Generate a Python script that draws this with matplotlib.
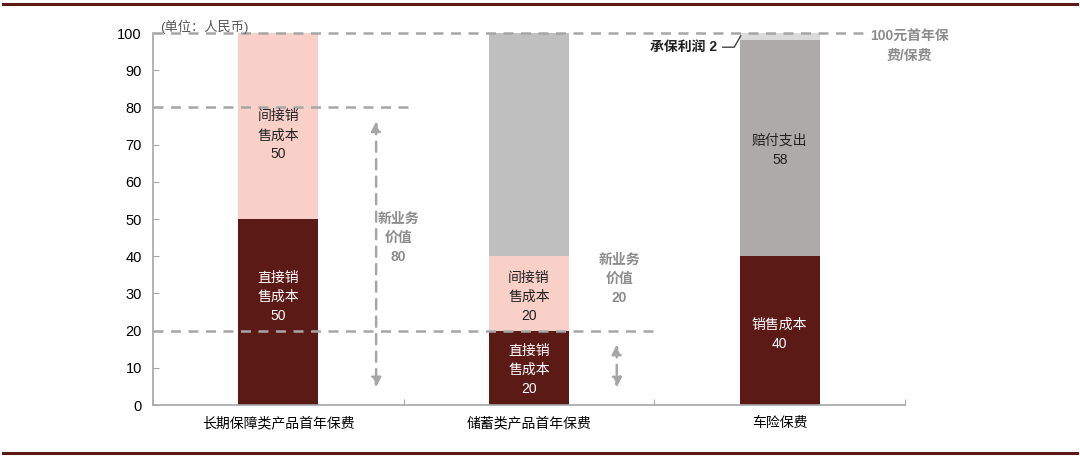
import matplotlib
matplotlib.use('Agg')
import matplotlib.pyplot as plt
from matplotlib.lines import Line2D
import numpy as np

plt.rcParams['font.family'] = ['Liberation Sans', 'Noto Sans CJK SC', 'DejaVu Sans']

# datos
categorias = ['长期保障类产品首年保费', '储蓄类产品首年保费', '车险保费']
seg_inferior = [50, 20, 40]      # coste de venta directo / coste de venta
seg_medio = [50, 20, 58]         # coste indirecto / pago de siniestros
seg_superior = [0, 60, 2]        # valor restante / beneficio de suscripción

etiq_inferior = ['直接销\n售成本\n50', '直接销\n售成本\n20', '销售成本\n40']
etiq_medio = ['间接销\n售成本\n50', '间接销\n售成本\n20', '赔付支出\n58']

lineas_ref = [100, 80, 20]
yticks = np.arange(0, 101, 10)

oscuro = '#5C1A17'
rosa = '#F8D0C8'
gris = '#BFBFBF'
gris2 = '#AFAAAA'
gris_claro = '#DADADA'
gris_linea = '#A6A6A6'
gris_texto = '#8C8C8C'

col_medio = [rosa, rosa, gris2]
col_superior = [gris, gris, gris_claro]

fig = plt.figure(figsize=(10.8, 4.59), dpi=100)
ax = fig.add_axes([0.1417, 0.1176, 0.6963, 0.8104])

x = np.arange(len(categorias))
ancho = 0.32
ax.bar(x, seg_inferior, ancho, color=oscuro, zorder=2)
ax.bar(x, seg_medio, ancho, bottom=seg_inferior, color=col_medio, zorder=2)
base_sup = np.array(seg_inferior) + np.array(seg_medio)
ax.bar(x, seg_superior, ancho, bottom=base_sup, color=col_superior, zorder=2)

# etiquetas dentro de las barras
pos_inf = [29, 9.5, 19]
pos_med = [72.5, 29, 68.5]
for i in range(len(categorias)):
    ax.text(x[i], pos_inf[i], etiq_inferior[i], ha='center', va='center',
            color='white', fontsize=10, linespacing=1.45, zorder=4)
    ax.text(x[i], pos_med[i], etiq_medio[i], ha='center', va='center',
            color='#222222', fontsize=10, linespacing=1.45, zorder=4)

# líneas discontinuas de referencia
fin_lineas = [2.35, 0.54, 1.5]
for y, fin in zip(lineas_ref, fin_lineas):
    ax.plot([-0.5, fin], [y, y], ls=(0, (4, 3)), color=gris_linea, lw=1.8,
            clip_on=False, zorder=3)

# flechas de nuevo valor de negocio
ax.annotate('', xy=(0.39, 4), xytext=(0.39, 77),
            arrowprops=dict(arrowstyle='<|-|>', color=gris_linea, lw=1.8,
                            ls=(0, (4, 3)), mutation_scale=14))
ax.annotate('', xy=(1.35, 4), xytext=(1.35, 17),
            arrowprops=dict(arrowstyle='<|-|>', color=gris_linea, lw=1.8,
                            ls=(0, (4, 3)), mutation_scale=14))
ax.text(0.48, 45, '新业务\n价值\n80', ha='center', va='center', color=gris_texto,
        fontsize=10, linespacing=1.45, fontweight='bold')
ax.text(1.36, 34, '新业务\n价值\n20', ha='center', va='center', color=gris_texto,
        fontsize=10, linespacing=1.45, fontweight='bold')

# beneficio de suscripción
ax.annotate('承保利润 2', xy=(1.845, 99.3), xytext=(1.75, 96.2),
            ha='right', va='center', fontsize=10, color='#222222',
            fontweight='bold',
            arrowprops=dict(arrowstyle='-', color='#404040', lw=1,
                            connectionstyle='angle,angleA=0,angleB=60,rad=0',
                            shrinkA=2, shrinkB=0))
ax.text(2.36, 100.8, '100元首年保\n费/保费', ha='left', va='top',
        color=gris_texto, fontsize=10, linespacing=1.4, fontweight='bold',
        clip_on=False, multialignment='center')
ax.text(-0.47, 101.8, '(单位：人民币)', ha='left', va='center', color='#555555',
        fontsize=9.5)

# ejes
ax.set_xlim(-0.5, 2.5)
ax.set_ylim(0, 100)
ax.set_yticks(yticks)
ax.set_xticks([-0.5, 0.5, 1.5, 2.5])
ax.set_xticklabels([])
ax.set_xticks(x, minor=True)
ax.set_xticklabels(categorias, minor=True, fontsize=10)
ax.tick_params(axis='x', which='minor', length=0, pad=8)
ax.tick_params(axis='x', which='major', direction='in', length=4, color=gris_linea)
ax.tick_params(axis='y', direction='in', length=4, color=gris_linea, labelsize=10.5,
               pad=8)
for lado in ['top', 'right']:
    ax.spines[lado].set_visible(False)
for lado in ['left', 'bottom']:
    ax.spines[lado].set_color(gris_linea)
    ax.spines[lado].set_linewidth(1.2)

# líneas decorativas arriba y abajo
fig.add_artist(Line2D([0.003, 0.997], [0.991, 0.991], color=oscuro, lw=2.2))
fig.add_artist(Line2D([0.003, 0.997], [0.013, 0.013], color=oscuro, lw=2.2))

fig.savefig('out.png', dpi=100)
